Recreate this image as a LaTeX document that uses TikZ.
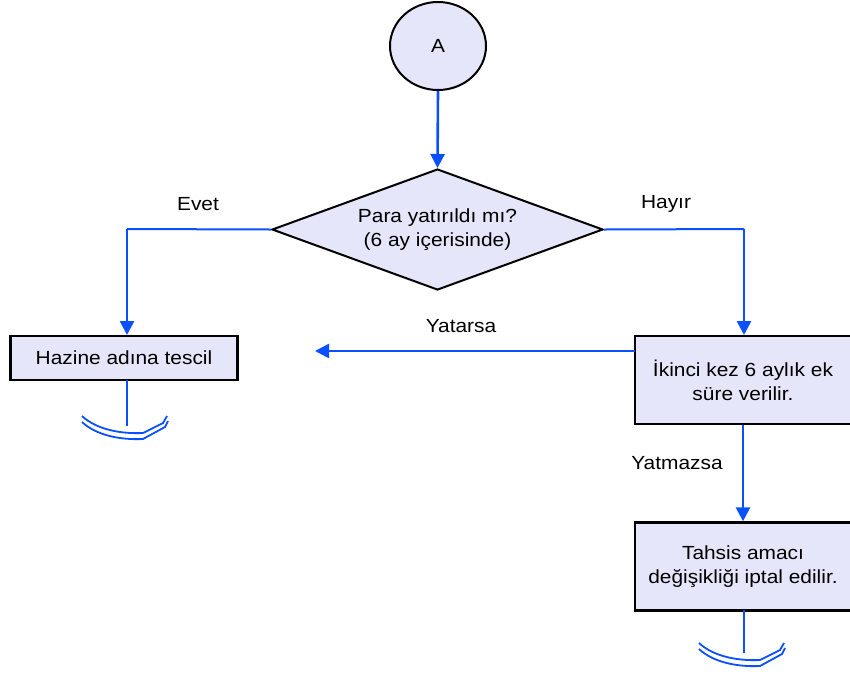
\documentclass[tikz,border=0pt]{standalone}
\usepackage{fontspec}
\setmainfont{Liberation Sans}[FakeStretch=1.1]
\usetikzlibrary{arrows.meta,shapes.geometric,calc}
\definecolor{flowblue}{RGB}{10,80,255}
\definecolor{boxfill}{RGB}{230,230,250}
\tikzset{
  boxnode/.style={draw=black,line width=2.4pt,fill=boxfill,inner sep=0pt,align=center,font=\fontsize{19}{24}\selectfont},
  lbl/.style={font=\fontsize{19}{24}\selectfont,inner sep=0pt},
  flow/.style={draw=flowblue,line width=2pt},
  flowarr/.style={draw=flowblue,line width=2.6pt,-{Triangle[length=14pt,width=14pt]}},
  endsym/.style={draw=flowblue,line width=1.8pt},
}
\begin{document}
\begin{tikzpicture}[x=1pt,y=-1pt]
\useasboundingbox (0,0) rectangle (850,673);
% start circle
\node[ellipse,draw=black,line width=2pt,fill=boxfill,minimum width=96pt,minimum height=88pt,inner sep=0pt,font=\fontsize{19}{24}\selectfont] (A) at (438,46) {A};
% decision diamond
\node[diamond,draw=black,line width=2pt,fill=boxfill,minimum width=331pt,minimum height=121pt,inner sep=0pt,aspect=2.7,align=center,font=\fontsize{19}{24}\selectfont] (D) at (437.5,229.5) {Para yatırıldı mı?\\(6 ay içerisinde)};
\coordinate (Dtop) at (437.5,168);
% boxes
\node[boxnode,minimum width=227pt,minimum height=44pt] (H) at (124,358) {Hazine adına tescil};
\node[boxnode,minimum width=216pt,minimum height=88pt] (I) at (743,380) {İkinci kez 6 aylık ek\\süre verilir.};
\node[boxnode,minimum width=216pt,minimum height=88pt] (T) at (743,566.5) {Tahsis amacı\\değişikliği iptal edilir.};
% coordinates
\coordinate (Lc) at (127,229);
\coordinate (Rc) at (744,229);
\coordinate (Htop) at (127,335);
\coordinate (Itop) at (744,335);
\coordinate (Ileft) at (635,351);
\coordinate (Ytip) at (315,351);
\coordinate (Hbot) at (127,380);
\coordinate (E1) at (127,426);
\coordinate (Tbot) at (744,610);
\coordinate (E2) at (744,653);
% connectors
\draw[flowarr] (A.south) -- (Dtop);
\draw[flow] (D.west) -- (Lc);
\draw[flowarr] (Lc) -- (Htop);
\draw[flow] (D.east) -- (Rc);
\draw[flowarr] (Rc) -- (Itop);
\draw[flowarr] (Ileft) -- (Ytip);
\draw[flowarr] (I.south) -- (T.north);
\draw[flow] (Hbot) -- (E1);
\draw[flow] (Tbot) -- (E2);
% end symbols
\foreach \e in {E1,E2}{
  \draw[endsym] ($(\e)+(-45,-10)$) .. controls ($(\e)+(-30,4)$) and ($(\e)+(-5,8)$) .. ($(\e)+(16,7)$) -- ($(\e)+(36,-3)$) -- ($(\e)+(40,-10)$);
  \draw[endsym] ($(\e)+(-45,-4)$) .. controls ($(\e)+(-30,10)$) and ($(\e)+(-5,14)$) .. ($(\e)+(16,13)$) -- ($(\e)+(38,1)$) -- ($(\e)+(41,-5)$);
}
% labels
\node[lbl] (evet) at (198,204) {Evet};
\node[lbl] (hayir) at (666,204) {Hayır};
\node[lbl] (yatarsa) at (461,326) {Yatarsa};
\node[lbl] (yatmazsa) at (677,463) {Yatmazsa};
\end{tikzpicture}
\end{document}
